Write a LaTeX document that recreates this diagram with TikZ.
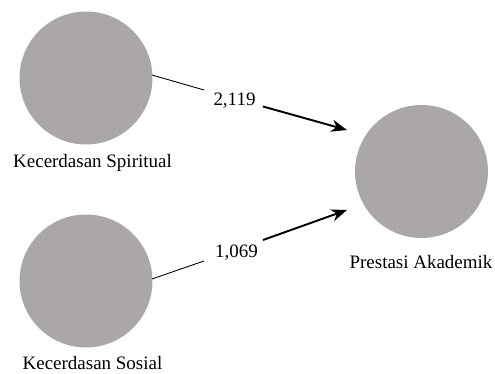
\documentclass[tikz,border=0pt]{standalone}
\usepackage{fontspec}
\setmainfont{Liberation Serif}
\usetikzlibrary{arrows.meta}
\definecolor{latent}{RGB}{171,167,167}
\begin{document}
\begin{tikzpicture}[x=0.02cm,y=-0.02cm,
  construct/.style={circle,fill=latent,minimum size=2.66cm,inner sep=0pt},
  caption/.style={font=\fontsize{10.8}{12}\selectfont,inner sep=0pt},
  coef/.style={font=\fontsize{10.8}{12}\selectfont,inner sep=0pt},
  thinline/.style={line width=0.5pt},
  pathline/.style={line width=1.1pt,-{Stealth[length=9pt,width=7pt]}}]
\useasboundingbox (0,0) rectangle (495,374);
% latent constructs
\node[construct] (ks) at (86,78) {};
\node[construct] (kso) at (86,281) {};
\node[construct] (pa) at (421.5,171.5) {};
% construct names
\node[caption] (lks) at (92.5,163) {Kecerdasan Spiritual};
\node[caption] (lkso) at (92.5,363) {Kecerdasan Sosial};
\node[caption] (lpa) at (421,262) {Prestasi Akademik};
% path coefficients
\node[coef] (c1) at (234.5,101) {2,119};
\node[coef] (c2) at (236.5,253) {1,069};
% line ends on the circles and beside the coefficients
\coordinate (s1) at (152,75);
\coordinate (s2) at (152,279);
\coordinate (c1in) at (204,90);
\coordinate (c1out) at (263,106.5);
\coordinate (c2in) at (204,261);
\coordinate (c2out) at (263,240);
\coordinate (t1) at (347,130);
\coordinate (t2) at (347,210);
% paths
\draw[thinline] (s1) -- (c1in);
\draw[pathline] (c1out) -- (t1);
\draw[thinline] (s2) -- (c2in);
\draw[pathline] (c2out) -- (t2);
\end{tikzpicture}
\end{document}
